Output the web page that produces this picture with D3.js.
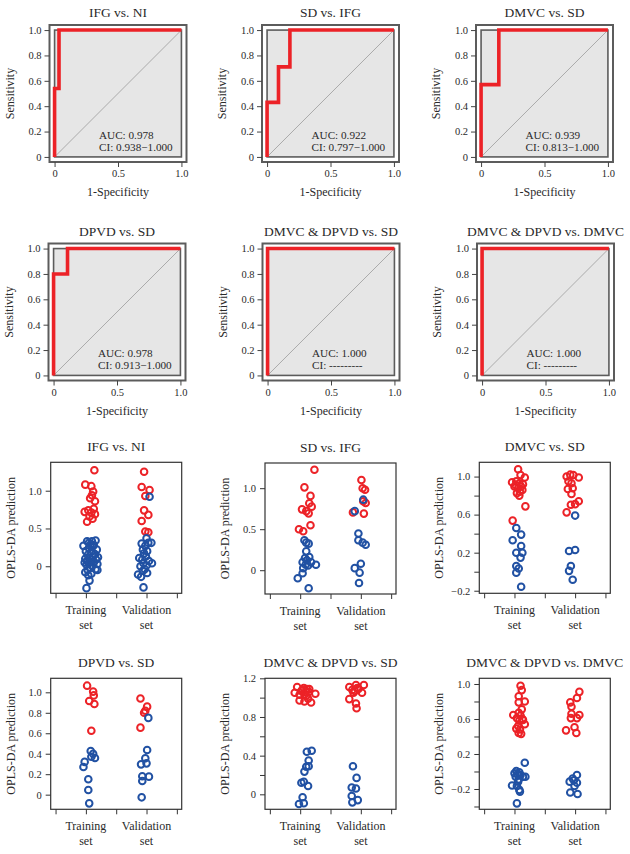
<!DOCTYPE html>
<html>
<head>
<meta charset="utf-8">
<script src="https://cdn.jsdelivr.net/npm/d3@7"></script>
<style>
  body { margin: 0; background: #fff; }
  svg text { font-family: "Liberation Serif", "DejaVu Serif", serif; fill: #2a2a2a; }
</style>
</head>
<body>
<svg id="chart" width="630" height="854"></svg>
<script>
'use strict';

// ── ROC curves: [1-specificity, sensitivity] ───────────────────────────────
const rocIfgNi     = [[0, 0], [0, 0.54], [0.035, 0.54], [0.035, 1], [1, 1]];
const rocSdIfg     = [[0, 0], [0, 0.43], [0.09, 0.43], [0.09, 0.71], [0.18, 0.71], [0.18, 1], [1, 1]];
const rocDmvcSd    = [[0, 0], [0, 0.57], [0.14, 0.57], [0.14, 1], [1, 1]];
const rocDpvdSd    = [[0, 0], [0, 0.8], [0.11, 0.8], [0.11, 1], [1, 1]];
const rocBothSd    = [[0, 0], [0, 1], [1, 1]];
const rocBothDmvc  = [[0, 0], [0, 1], [1, 1]];

const rocTitles = ['IFG vs. NI', 'SD vs. IFG', 'DMVC vs. SD', 'DPVD vs. SD', 'DMVC & DPVD vs. SD', 'DMVC & DPVD vs. DMVC'];
const aucLabels = ['AUC: 0.978', 'AUC: 0.922', 'AUC: 0.939', 'AUC: 0.978', 'AUC: 1.000', 'AUC: 1.000'];
const ciLabels  = ['CI: 0.938\u22121.000', 'CI: 0.797\u22121.000', 'CI: 0.813\u22121.000', 'CI: 0.913\u22121.000', 'CI: ---------', 'CI: ---------'];
const rocTicksY = [0, 0.2, 0.4, 0.6, 0.8, 1];
const rocTicksX = [0, 0.5, 1];

// ── OPLS-DA predictions: [jittered group position, prediction] ─────────────
// group 1 = training set, group 2 = validation set
const ifgNiRed = [[1.14,1.27],[0.99,1.08],[1.09,1.06],[1.12,0.99],[1.10,0.94],[1.07,0.90],[1.15,0.86],[0.98,0.72],[1.04,0.74],[1.09,0.71],[1.15,0.69],[1.02,0.59],[1.11,0.63],[1.06,0.66],[1.13,0.76],
                  [1.96,1.25],[1.92,1.05],[2.05,1.01],[1.98,0.93],[1.96,0.74],[2.03,0.68],[1.92,0.60],[1.98,0.46],[2.03,0.45]];
const ifgNiBlue = [[1.02,0.33],[1.10,0.33],[1.16,0.34],[0.96,0.27],[1.08,0.29],[1.13,0.28],[1.05,0.24],[1.18,0.22],[1.00,0.20],[1.09,0.19],[1.15,0.16],[1.03,0.15],[1.12,0.13],[1.20,0.12],[0.99,0.10],[1.06,0.10],[1.17,0.09],[1.02,0.07],[1.09,0.06],[0.98,0.05],[1.13,0.05],[1.05,0.04],[1.19,0.03],[1.01,0.02],[1.10,0.01],[1.07,-0.02],[1.16,-0.04],[1.03,-0.05],[1.19,-0.05],[0.99,-0.08],[1.09,-0.10],[1.04,-0.12],[1.06,-0.19],[1.01,-0.29],[1.11,0.26],[1.05,0.31],
                   [2.05,0.92],[2.00,0.37],[1.92,0.30],[2.03,0.31],[1.98,0.27],[2.08,0.31],[1.94,0.22],[2.01,0.20],[1.96,0.17],[1.88,0.11],[1.99,0.13],[1.93,0.09],[2.04,0.07],[2.09,0.04],[1.95,0.04],[1.90,0.00],[2.00,0.01],[1.97,-0.04],[1.86,-0.11],[1.91,-0.14],[2.01,-0.09],[1.94,-0.06],[1.95,-0.28]];

const sdIfgRed = [[1.235,1.225],[1.07,1.01],[1.17,0.906],[1.15,0.816],[1.03,0.742],[1.10,0.72],[1.19,0.775],[1.14,0.693],[1.17,0.549],[0.98,0.50],[1.05,0.475],
                  [2.01,1.10],[2.03,1.0],[2.07,0.98],[2.04,0.84],[2.08,0.82],[1.87,0.705],[2.05,0.69]];
const sdIfgBlue = [[1.07,0.365],[1.10,0.336],[1.14,0.324],[1.10,0.23],[1.08,0.148],[1.15,0.16],[1.04,0.098],[1.11,0.12],[1.18,0.098],[1.09,0.066],[1.26,0.066],[1.05,0.025],[1.13,0.057],[1.04,-0.037],[0.96,-0.098],[1.14,-0.22],
                   [1.90,0.72],[2.04,0.86],[1.96,0.447],[1.96,0.365],[2.03,0.336],[2.08,0.31],[2.0,0.078],[1.90,0.025],[1.98,-0.03],[1.97,-0.156]];

const dmvcSdRed = [[1.06,1.077],[1.10,1.017],[1.17,0.99],[0.96,0.94],[1.03,0.95],[1.08,0.93],[1.14,0.92],[1.0,0.896],[1.06,0.878],[1.11,0.896],[1.13,0.86],[1.04,0.826],[1.08,0.80],[1.02,0.91],[1.09,0.84],[1.18,0.687],[0.97,0.537],
                   [1.86,1.0],[1.92,1.02],[1.97,1.017],[2.06,0.99],[1.89,0.95],[1.94,0.93],[1.88,0.87],[1.96,0.878],[1.94,0.816],[1.93,0.704],[2.0,0.71],[2.06,0.74],[1.86,0.624]];
const dmvcSdBlue = [[1.03,0.46],[1.11,0.39],[0.97,0.33],[1.11,0.27],[1.03,0.2],[1.13,0.2],[1.1,0.148],[1.03,0.06],[1.07,0.033],[1.03,-0.01],[1.11,-0.158],
                    [2.0,0.59],[1.90,0.217],[2.0,0.228],[1.90,0.009],[1.93,0.06],[1.96,-0.085]];

const dpvdSdRed = [[1.02,1.065],[1.12,1.007],[1.13,0.97],[1.055,0.915],[1.14,0.886],[1.09,0.625],
                   [1.90,0.94],[2.01,0.86],[1.98,0.82],[1.96,0.80],[1.90,0.655]];
const dpvdSdBlue = [[1.08,0.427],[1.12,0.40],[1.15,0.358],[1.09,0.37],[0.98,0.32],[0.96,0.27],[1.04,0.15],[1.04,0.046],[1.055,-0.085],
                    [2.03,0.75],[2.01,0.436],[1.98,0.355],[2.0,0.306],[1.91,0.296],[1.93,0.18],[2.04,0.176],[1.93,0.134],[1.92,-0.026]];

const bothSdRed = [[0.95,1.11],[1.06,1.10],[1.11,1.09],[1.15,1.09],[0.91,1.05],[1.02,1.07],[1.09,1.06],[1.14,1.06],[1.25,1.04],[0.99,1.03],[1.07,1.03],[0.99,0.97],[1.07,0.96],[1.18,0.95],[1.13,0.99],[1.04,1.08],[1.10,1.02],
                   [1.81,1.11],[1.92,1.13],[2.05,1.13],[1.86,1.08],[1.96,1.09],[1.88,1.05],[2.02,1.05],[1.81,0.985],[1.92,0.94],[1.93,0.89],[1.94,1.10],[1.90,1.07]];
const bothSdBlue = [[1.11,0.44],[1.19,0.45],[1.14,0.35],[1.14,0.29],[1.10,0.285],[1.07,0.235],[1.02,0.12],[1.06,0.13],[1.13,0.086],[1.04,-0.03],[1.06,-0.093],[0.98,-0.10],
                    [1.87,0.29],[1.93,0.17],[1.85,0.07],[1.92,0.06],[1.85,-0.017],[1.95,-0.06],[1.86,-0.083]];

const bothDmvcRed = [[1.1,0.98],[1.12,0.93],[1.07,0.86],[1.07,0.79],[1.17,0.80],[1.12,0.71],[1.07,0.67],[0.98,0.645],[1.04,0.61],[1.13,0.60],[1.08,0.58],[1.17,0.54],[1.06,0.52],[1.09,0.48],[1.07,0.44],[1.11,0.43],[1.14,0.59],[1.03,0.49],[1.10,0.64],
                     [2.07,0.91],[2.03,0.84],[1.92,0.79],[1.94,0.74],[1.94,0.66],[2.07,0.645],[1.93,0.61],[2.03,0.61],[1.99,0.505],[1.85,0.47],[2.02,0.44]];
const bothDmvcBlue = [[1.17,0.10],[1.03,0.006],[1.08,-0.01],[1.0,-0.02],[1.14,-0.06],[1.18,-0.06],[1.07,-0.09],[0.96,-0.16],[1.04,-0.166],[1.08,-0.21],[1.09,-0.23],[1.04,-0.364],[1.06,-0.116],[1.02,-0.06],[1.10,-0.04],[1.05,-0.03],
                      [2.03,-0.04],[1.96,-0.08],[1.91,-0.116],[2.03,-0.128],[1.99,-0.166],[1.92,-0.24],[2.04,-0.257],[1.98,-0.10]];

const groupTicks  = [0.5, 1, 1.5, 2, 2.5];
const groupLabels = [[1, 'Training', 'set'], [2, 'Validation', 'set']];

// ── Colours / layout ─────────────────────────────────────────────────────
const RED  = '#ec2227';
const BLUE = '#2151a3';

const svg = d3.select('#chart');

const rocPanels = [
  { data: rocIfgNi,    left: 49.5, top: 25 },
  { data: rocSdIfg,    left: 262,  top: 25 },
  { data: rocDmvcSd,   left: 476,  top: 25 },
  { data: rocDpvdSd,   left: 48.5, top: 243.5 },
  { data: rocBothSd,   left: 262.5, top: 243.5 },
  { data: rocBothDmvc, left: 477,  top: 243.5 },
];

const scatterPanels = [
  { title: 'IFG vs. NI',           red: ifgNiRed,    blue: ifgNiBlue,    left: 50.7, top: 462.3, ylim: [-0.358, 1.376], ticks: [0, 0.5, 1],                          labels: [0, 0.5, 1] },
  { title: 'SD vs. IFG',           red: sdIfgRed,    blue: sdIfgBlue,    left: 265,  top: 463,   ylim: [-0.29, 1.307],  ticks: [0, 0.5, 1],                          labels: [0, 0.5, 1] },
  { title: 'DMVC vs. SD',          red: dmvcSdRed,   blue: dmvcSdBlue,   left: 479.3, top: 462.3, ylim: [-0.227, 1.15], ticks: [-0.2, 0, 0.2, 0.4, 0.6, 0.8, 1],     labels: [-0.2, 0.2, 0.6, 1] },
  { title: 'DPVD vs. SD',          red: dpvdSdRed,   blue: dpvdSdBlue,   left: 50.7, top: 678.3, ylim: [-0.143, 1.137], ticks: [0, 0.2, 0.4, 0.6, 0.8, 1],           labels: [0, 0.2, 0.4, 0.6, 0.8, 1] },
  { title: 'DMVC & DPVD vs. SD',   red: bothSdRed,   blue: bothSdBlue,   left: 265,  top: 678.3, ylim: [-0.155, 1.2],   ticks: [0, 0.2, 0.4, 0.6, 0.8, 1, 1.2],      labels: [0, 0.4, 0.8, 1.2] },
  { title: 'DMVC & DPVD vs. DMVC', red: bothDmvcRed, blue: bothDmvcBlue, left: 479.3, top: 678.3, ylim: [-0.432, 1.065], ticks: [-0.4, -0.2, 0, 0.2, 0.4, 0.6, 0.8, 1], labels: [-0.2, 0.2, 0.6, 1] },
];

function fmt(v) {
  if (Math.abs(v) < 1e-9) return '0';
  return (v < 0 ? '\u2212' : '') + Math.abs(v).toFixed(1);
}

// ── ROC panels ───────────────────────────────────────────────────────────
const ROC_SIZE = 137;
rocPanels.forEach((p, i) => {
  const g = svg.append('g');
  const x = d3.scaleLinear().domain([-0.04, 1.04]).range([p.left, p.left + ROC_SIZE]);
  const y = d3.scaleLinear().domain([-0.04, 1.04]).range([p.top + ROC_SIZE, p.top]);

  g.append('rect')
    .attr('x', x(0)).attr('y', y(1))
    .attr('width', x(1) - x(0)).attr('height', y(0) - y(1))
    .attr('fill', '#e6e6e6').attr('stroke', '#5c5c5c').attr('stroke-width', 1.6);

  g.append('line')
    .attr('x1', x(0)).attr('y1', y(0)).attr('x2', x(1)).attr('y2', y(1))
    .attr('stroke', '#9c9c9c').attr('stroke-width', 0.8);

  g.append('path')
    .datum(p.data)
    .attr('d', d3.line().x(d => x(d[0])).y(d => y(d[1])))
    .attr('fill', 'none').attr('stroke', RED).attr('stroke-width', 3.6)
    .attr('stroke-linejoin', 'miter');

  g.append('rect')
    .attr('x', p.left).attr('y', p.top)
    .attr('width', ROC_SIZE).attr('height', ROC_SIZE)
    .attr('fill', 'none').attr('stroke', '#5c5c5c').attr('stroke-width', 2);

  const ay = g.append('g').attr('transform', `translate(${p.left},0)`)
    .call(d3.axisLeft(y).tickValues(rocTicksY).tickFormat(fmt).tickSize(5).tickPadding(3));
  const ax = g.append('g').attr('transform', `translate(0,${p.top + ROC_SIZE})`)
    .call(d3.axisBottom(x).tickValues(rocTicksX).tickFormat(fmt).tickSize(5).tickPadding(3));
  [ay, ax].forEach(a => {
    a.select('.domain').remove();
    a.selectAll('line').attr('stroke', '#444');
    a.selectAll('text').attr('font-size', 10.5).attr('font-family', null).attr('fill', null);
  });

  g.append('text')
    .attr('x', p.left + ROC_SIZE / 2).attr('y', p.top - 8)
    .attr('text-anchor', 'middle').attr('font-size', 13.5)
    .text(rocTitles[i]);

  g.append('text')
    .attr('x', p.left + ROC_SIZE / 2).attr('y', p.top + ROC_SIZE + 34)
    .attr('text-anchor', 'middle').attr('font-size', 12)
    .text('1-Specificity');

  g.append('text')
    .attr('transform', `translate(${p.left - 36},${p.top + ROC_SIZE / 2}) rotate(-90)`)
    .attr('text-anchor', 'middle').attr('font-size', 12)
    .text('Sensitivity');

  g.append('text')
    .attr('x', x(0.35)).attr('y', y(0.145))
    .attr('font-size', 11.2)
    .text(aucLabels[i]);
  g.append('text')
    .attr('x', x(0.35)).attr('y', y(0.05))
    .attr('font-size', 11.2)
    .text(ciLabels[i]);
});

// ── OPLS-DA scatter panels ───────────────────────────────────────────────
const SC_W = 131, SC_H = 131;
scatterPanels.forEach(p => {
  const g = svg.append('g');
  const x = d3.scaleLinear().domain([0.42, 2.58]).range([p.left, p.left + SC_W]);
  const y = d3.scaleLinear().domain(p.ylim).range([p.top + SC_H, p.top]);

  g.append('rect')
    .attr('x', p.left).attr('y', p.top)
    .attr('width', SC_W).attr('height', SC_H)
    .attr('fill', 'none').attr('stroke', '#333').attr('stroke-width', 1.2);

  const ay = g.append('g').attr('transform', `translate(${p.left},0)`)
    .call(d3.axisLeft(y).tickValues(p.ticks)
      .tickFormat(v => p.labels.some(l => Math.abs(l - v) < 1e-9) ? fmt(v) : '')
      .tickSize(5).tickPadding(4));
  const ax = g.append('g').attr('transform', `translate(0,${p.top + SC_H})`)
    .call(d3.axisBottom(x).tickValues(groupTicks).tickFormat('').tickSize(5));
  [ay, ax].forEach(a => {
    a.select('.domain').remove();
    a.selectAll('line').attr('stroke', '#333');
    a.selectAll('text').attr('font-size', 10.5).attr('font-family', null).attr('fill', null);
  });

  groupLabels.forEach(([pos, l1, l2]) => {
    const t = g.append('text')
      .attr('x', x(pos)).attr('y', p.top + SC_H + 21)
      .attr('text-anchor', 'middle').attr('font-size', 12);
    t.append('tspan').attr('x', x(pos)).text(l1);
    t.append('tspan').attr('x', x(pos)).attr('dy', 14.5).text(l2);
  });

  g.append('text')
    .attr('x', p.left + SC_W / 2).attr('y', p.top - 11)
    .attr('text-anchor', 'middle').attr('font-size', 13.5)
    .text(p.title);

  g.append('text')
    .attr('transform', `translate(${p.left - 36},${p.top + SC_H / 2}) rotate(-90)`)
    .attr('text-anchor', 'middle').attr('font-size', 12)
    .text('OPLS-DA prediction');

  g.append('g').selectAll('circle')
    .data(p.red).join('circle')
    .attr('cx', d => x(d[0])).attr('cy', d => y(d[1])).attr('r', 3.3)
    .attr('fill', 'none').attr('stroke', RED).attr('stroke-width', 2);

  g.append('g').selectAll('circle')
    .data(p.blue).join('circle')
    .attr('cx', d => x(d[0])).attr('cy', d => y(d[1])).attr('r', 3.3)
    .attr('fill', 'none').attr('stroke', BLUE).attr('stroke-width', 2);
});
</script>
</body>
</html>
